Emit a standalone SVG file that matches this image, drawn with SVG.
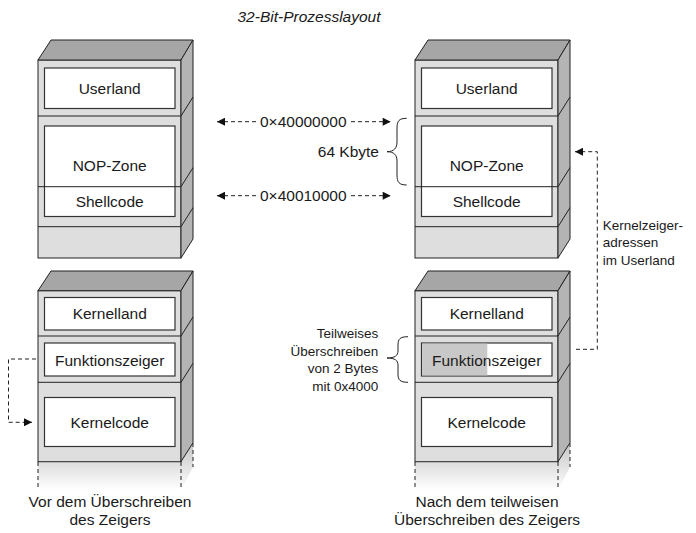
<svg xmlns="http://www.w3.org/2000/svg" width="696" height="533" viewBox="0 0 696 533">
<style>
.front{fill:#dedede;stroke:#222;stroke-width:1}
.topf{fill:#a6a6a6;stroke:#222;stroke-width:1}
.side{fill:#b4b4b4;stroke:#222;stroke-width:1}
.sep{fill:none;stroke:#222;stroke-width:1}
.box{fill:#fff;stroke:#333;stroke-width:1.2}
.t{font-family:"Liberation Sans",Arial,sans-serif;font-size:15.5px;fill:#1a1a1a;text-anchor:middle}
.a{font-family:"Liberation Sans",Arial,sans-serif;font-size:13.5px;fill:#1a1a1a}
.title{font-family:"Liberation Sans",Arial,sans-serif;font-size:15.5px;font-style:italic;fill:#1a1a1a;text-anchor:middle}
.dash{fill:none;stroke:#222;stroke-width:1;stroke-dasharray:4,3}
.brace{fill:none;stroke:#222;stroke-width:1}
</style>
<defs>
<marker id="ah" viewBox="0 0 10 10" refX="10" refY="5" markerWidth="9" markerHeight="8" markerUnits="userSpaceOnUse" orient="auto">
<path d="M0,0 L10,5 L0,10 Z" fill="#111"/>
</marker>
<linearGradient id="sh" x1="0" y1="0" x2="0" y2="1">
<stop offset="0" stop-color="#c4c4c4"/>
<stop offset="1" stop-color="#ffffff"/>
</linearGradient>
</defs>

<text class="title" x="309" y="22">32-Bit-Prozesslayout</text>

<!-- Top-left block -->
<g id="block-top-left">
<rect class="front" x="38" y="60" width="143" height="198"/>
<polygon class="topf" points="38,60 51,40 193,40 181,60"/>
<polygon class="side" points="181,60 193,40 193,239 181,258"/>
<rect class="box" x="44.5" y="68" width="130.5" height="40.5"/>
<path class="sep" d="M38,116 H181 L193,97"/>
<rect class="box" x="44.5" y="126" width="130.5" height="90.5"/>
<path class="sep" d="M38,186.7 H181 L193,167.7"/>
<path class="sep" d="M38,226.7 H181 L193,207.7"/>
<text class="t" x="109.7" y="93.5">Userland</text>
<text class="t" x="109.7" y="170.5">NOP-Zone</text>
<text class="t" x="109.7" y="207">Shellcode</text>
</g>

<!-- Top-right block -->
<g id="block-top-right">
<rect class="front" x="415" y="60" width="143" height="198"/>
<polygon class="topf" points="415,60 428,40 570,40 558,60"/>
<polygon class="side" points="558,60 570,40 570,239 558,258"/>
<rect class="box" x="421.5" y="68" width="130.5" height="40.5"/>
<path class="sep" d="M415,116 H558 L570,97"/>
<rect class="box" x="421.5" y="126" width="130.5" height="90.5"/>
<path class="sep" d="M415,186.7 H558 L570,167.7"/>
<path class="sep" d="M415,226.7 H558 L570,207.7"/>
<text class="t" x="486.7" y="93.5">Userland</text>
<text class="t" x="486.7" y="170.5">NOP-Zone</text>
<text class="t" x="486.7" y="207">Shellcode</text>
</g>

<!-- Bottom-left block -->
<g id="block-bottom-left">
<polygon points="38,461.7 181,461.7 193,442.7 193,467 181,490 38,490" fill="url(#sh)"/>
<rect class="front" x="38" y="290.7" width="143" height="171"/>
<polygon class="topf" points="38,290.7 51,271 193,271 181,290.7"/>
<polygon class="side" points="181,290.7 193,271 193,442.7 181,461.7"/>
<path class="sep" d="M38,336 H181 L193,317"/>
<path class="sep" d="M38,382.3 H181 L193,363.3"/>
<rect class="box" x="44.5" y="297.5" width="130.5" height="32.5"/>
<rect class="box" x="44.5" y="343" width="130.5" height="33"/>
<rect class="box" x="44.5" y="397.5" width="130.5" height="49"/>
<path class="dash" d="M38,462 V488 M181,462 V488 M193,443 V467"/>
<text class="t" x="109.7" y="319">Kernelland</text>
<text class="t" x="109.7" y="365.5">Funktionszeiger</text>
<text class="t" x="109.7" y="427.5">Kernelcode</text>
</g>

<!-- Bottom-right block -->
<g id="block-bottom-right">
<polygon points="415,461.7 558,461.7 570,442.7 570,467 558,490 415,490" fill="url(#sh)"/>
<rect class="front" x="415" y="290.7" width="143" height="171"/>
<polygon class="topf" points="415,290.7 428,271 570,271 558,290.7"/>
<polygon class="side" points="558,290.7 570,271 570,442.7 558,461.7"/>
<path class="sep" d="M415,336 H558 L570,317"/>
<path class="sep" d="M415,382.3 H558 L570,363.3"/>
<rect class="box" x="421.5" y="297.5" width="130.5" height="32.5"/>
<rect class="box" x="421.5" y="343" width="130.5" height="33"/>
<rect x="422.1" y="343.6" width="65.2" height="31.8" fill="#c8c8c8"/>
<rect class="box" x="421.5" y="397.5" width="130.5" height="49"/>
<path class="dash" d="M415,462 V488 M558,462 V488 M570,443 V467"/>
<text class="t" x="486.7" y="319">Kernelland</text>
<text class="t" x="486.7" y="365.5">Funktionszeiger</text>
<text class="t" x="486.7" y="427.5">Kernelcode</text>
</g>

<!-- Annotations -->
<g id="addr-labels">
<text class="t" x="303.3" y="127">0×40000000</text>
<text class="t" x="303.3" y="201">0×40010000</text>
<text class="t" x="379" y="157" text-anchor="end" style="text-anchor:end">64 Kbyte</text>
<path class="brace" d="M406.7,118.3 C399,118.3 397,121 397,128 L397,142 C397,148 394,151.7 387,151.7 C394,151.7 397,155 397,161 L397,175 C397,182 399,185 406.7,185"/>
</g>

<g id="partial-overwrite-label">
<text class="a" x="378.3" y="338" style="text-anchor:end">Teilweises</text>
<text class="a" x="378.3" y="355.5" style="text-anchor:end">Überschreiben</text>
<text class="a" x="378.3" y="373" style="text-anchor:end">von 2 Bytes</text>
<text class="a" x="378.3" y="390.5" style="text-anchor:end">mit 0x4000</text>
<path class="brace" d="M408,336.7 C400,336.7 398,339 398,345 L398,351 C398,355.5 395,358 387,358 C395,358 398,360.5 398,365 L398,374 C398,380 400,382.3 408,382.3"/>
</g>

<g id="kernel-ptr-label">
<text class="a" x="602.7" y="229.5">Kernelzeiger-</text>
<text class="a" x="602.7" y="247">adressen</text>
<text class="a" x="602.7" y="264.5">im Userland</text>
</g>

<text class="t" x="110" y="507">Vor dem Überschreiben</text>
<text class="t" x="110" y="525">des Zeigers</text>
<text class="t" x="487" y="507">Nach dem teilweisen</text>
<text class="t" x="487" y="525">Überschreiben des Zeigers</text>

<!-- Connectors -->
<g id="connectors">
<path class="dash" d="M256,121.7 H217" marker-end="url(#ah)"/>
<path class="dash" d="M351,121.7 H390.7" marker-end="url(#ah)"/>
<path class="dash" d="M256,195.7 H217" marker-end="url(#ah)"/>
<path class="dash" d="M351,195.7 H390.7" marker-end="url(#ah)"/>
<path class="dash" d="M36,359 H8.5 V422.3 H32" marker-end="url(#ah)"/>
<path class="dash" d="M576,349.3 H597.3 V151.7 H575" marker-end="url(#ah)"/>
</g>
</svg>
